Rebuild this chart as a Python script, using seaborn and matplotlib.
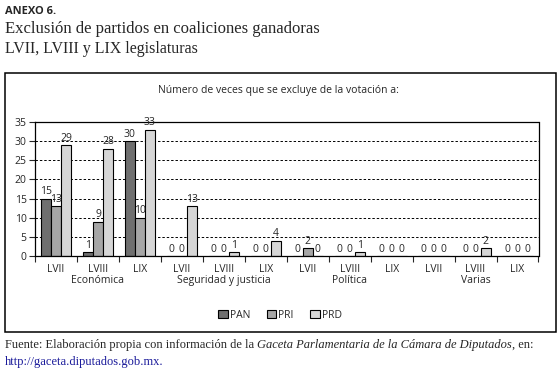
import matplotlib
matplotlib.use("Agg")
import matplotlib.pyplot as plt
from matplotlib.patches import Rectangle
import seaborn as sns
import pandas as pd

groups = ["Económica", "Seguridad y justicia", "Política", "Varias"]
legislaturas = ["LVII", "LVIII", "LIX"]
parties = ["PAN", "PRI", "PRD"]
pan = [15, 1, 30, 0, 0, 0, 0, 0, 0, 0, 0, 0]
pri = [13, 9, 10, 0, 0, 0, 2, 0, 0, 0, 0, 0]
prd = [29, 28, 33, 13, 1, 4, 0, 1, 0, 0, 2, 0]
colors = ["#6f6f6f", "#a6a6a6", "#d6d6d6"]

cats = [f"{g}|{l}" for g in groups for l in legislaturas]
rows = []
for p, vals in zip(parties, [pan, pri, prd]):
    for c, v in zip(cats, vals):
        rows.append({"cat": c, "partido": p, "valor": v})
df = pd.DataFrame(rows)

sns.set_style("white")
plt.rcParams["font.family"] = ["Open Sans", "DejaVu Sans"]

fig = plt.figure(figsize=(5.57, 3.71), dpi=100)
ax = fig.add_axes([35 / 557, 1 - 256 / 371, (538.5 - 35) / 557, (256 - 122) / 371])

sns.barplot(data=df, x="cat", y="valor", hue="partido", order=cats,
            hue_order=parties, palette=colors, width=0.72, ax=ax,
            edgecolor="black", linewidth=0.8, legend=True, errorbar=None)

for cont in ax.containers:
    ax.bar_label(cont, fmt="%d", fontsize=7.5, padding=1)

ax.set_ylim(0, 35)
ax.set_xlim(-0.5, len(cats) - 0.5)
ax.set_yticks(range(0, 36, 5))
ax.tick_params(axis="y", labelsize=7.5, length=4, width=0.8, direction="out", left=True, pad=2)
for y in range(5, 35, 5):
    ax.axhline(y, color="black", linestyle=(0, (2.5, 2)), linewidth=0.7, zorder=0)

ax.set_xticks([i - 0.5 for i in range(len(cats) + 1)])
ax.set_xticklabels([])
ax.set_xticks(range(len(cats)), minor=True)
ax.set_xticklabels(legislaturas * len(groups), minor=True, fontsize=7.5)
ax.tick_params(axis="x", which="major", length=4, width=0.8, direction="out", bottom=True)
ax.tick_params(axis="x", which="minor", length=0, pad=6)
for i, g in enumerate(groups):
    ax.text(3 * i + 1, -0.18, g, transform=ax.get_xaxis_transform(),
            ha="center", va="center", fontsize=7.5)

for s in ax.spines.values():
    s.set_visible(True)
    s.set_color("black")
    s.set_linewidth(0.9)
ax.set_xlabel("")
ax.set_ylabel("")

leg = ax.get_legend()
handles, labels = ax.get_legend_handles_labels()
leg.remove()
fig.legend(handles, labels, loc="center", bbox_to_anchor=(280 / 557, 1 - 315 / 371),
           ncol=3, frameon=False, fontsize=7.5, handlelength=0.9, handleheight=0.9,
           handletextpad=0.2, columnspacing=1.6)

fig.text(278 / 557, 1 - 91 / 371, "Número de veces que se excluye de la votación a:",
         fontsize=7.5, ha="center", va="center")

fig.patches.append(Rectangle((4.5 / 557, 1 - 332 / 371), (555.5 - 4.5) / 557, (332 - 72.5) / 371,
                             transform=fig.transFigure, fill=False, edgecolor="black",
                             linewidth=1.1))

serif = ["Liberation Serif", "DejaVu Serif"]
fig.text(5 / 557, 1 - 11 / 371, "ANEXO 6.", fontsize=8, fontweight="bold", va="center",
         family=["Open Sans", "DejaVu Sans"])
fig.text(5 / 557, 1 - 29 / 371, "Exclusión de partidos en coaliciones ganadoras", fontsize=12,
         va="center", family=serif)
fig.text(5 / 557, 1 - 49 / 371, "LVII, LVIII y LIX legislaturas", fontsize=11.5,
         va="center", family=serif)
t1 = fig.text(5 / 557, 1 - 345 / 371,
              "Fuente: Elaboración propia con información de la ", fontsize=9, va="center",
              family=serif)
fig.canvas.draw()
r = fig.canvas.get_renderer()
bb = t1.get_window_extent(r)
t2 = fig.text(bb.x1 / fig.bbox.width, 1 - 345 / 371,
              "Gaceta Parlamentaria de la Cámara de Diputados", fontsize=9, va="center",
              family=serif, style="italic")
bb2 = t2.get_window_extent(r)
fig.text(bb2.x1 / fig.bbox.width, 1 - 345 / 371, ", en:", fontsize=9, va="center", family=serif)
fig.text(5 / 557, 1 - 362 / 371, "http://gaceta.diputados.gob.mx.", fontsize=9, va="center",
         family=serif, color="#1a1a9a")

fig.savefig("out.png", dpi=100)
